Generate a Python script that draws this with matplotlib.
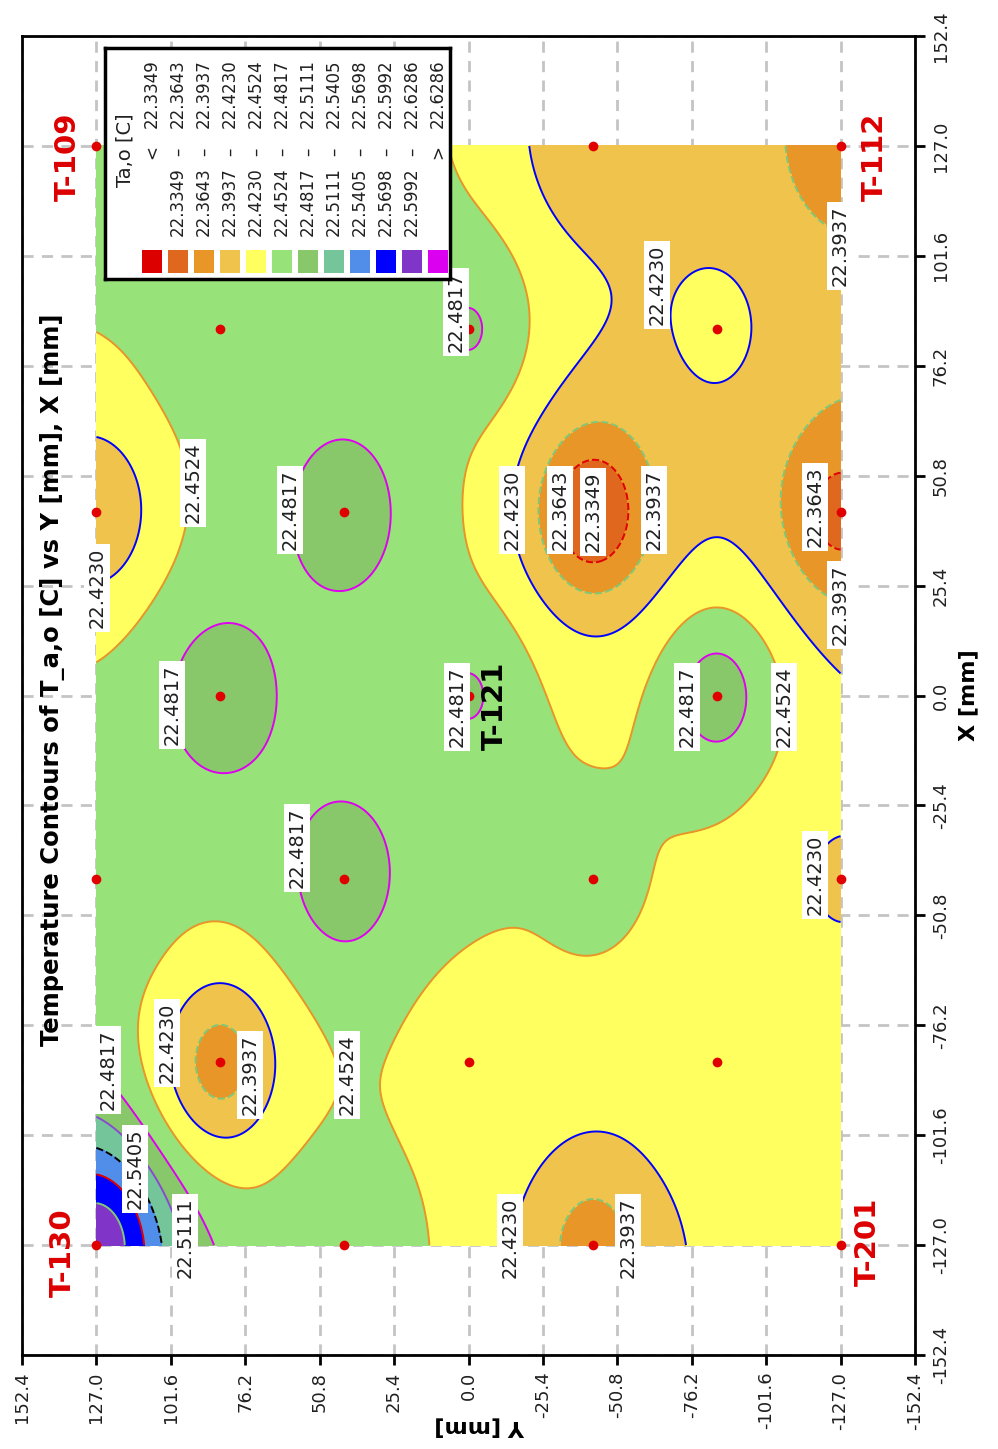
import numpy as np
import matplotlib
matplotlib.use("Agg")
import matplotlib.pyplot as plt
from matplotlib.patches import Rectangle
from matplotlib.ticker import FuncFormatter

# ==========================================================
# Data
# ==========================================================

# sensor locations (Y, X) in mm and measured temperature [C]
sensor_y = [127.0, 127.0, 127.0, 127.0,
            84.67, 84.67, 84.67,
            42.33, 42.33, 42.33, 42.33,
            0.0, 0.0, 0.0,
            -42.33, -42.33, -42.33, -42.33,
            -84.67, -84.67, -84.67,
            -127.0, -127.0, -127.0, -127.0]
sensor_x = [127.0, 42.33, -42.33, -127.0,
            84.67, 0.0, -84.67,
            127.0, 42.33, -42.33, -127.0,
            84.67, 0.0, -84.67,
            127.0, 42.33, -42.33, -127.0,
            84.67, 0.0, -84.67,
            127.0, 42.33, -42.33, -127.0]
sensor_t = [22.470, 22.400, 22.472, 22.618,
            22.470, 22.498, 22.380,
            22.470, 22.499, 22.499, 22.472,
            22.484, 22.484, 22.438,
            22.400, 22.333, 22.460, 22.382,
            22.427, 22.496, 22.440,
            22.378, 22.355, 22.420, 22.440]

levels = [22.3349, 22.3643, 22.3937, 22.4230, 22.4524, 22.4817,
          22.5111, 22.5405, 22.5698, 22.5992, 22.6286]
level_labels = ["%.4f" % v for v in levels]

band_colors = ["#dd0000", "#e0681e", "#e89628", "#f0c34c", "#ffff5f",
               "#98e27a", "#88c86a", "#74c69a", "#508eea", "#0000ff",
               "#8034c8", "#dc00f0"]
line_colors = ["#dd0000", "#e00000", "#80c878", "#0000ff", "#e89628",
               "#e000f0", "#8a4ad0", "black", "#e00000", "#80c878", "#e000f0"]
line_styles = ["--", "--", "--", "-", "-", "-", "-", "--", "-", "-", "-"]

# contour label texts and where they sit (Y, X)
clabel_text = ["22.4817", "22.3937", "22.4230", "22.4524", "22.4230",
               "22.4817", "22.4817", "22.4817", "22.4230", "22.3643",
               "22.3349", "22.3937", "22.3643", "22.3937", "22.4817",
               "22.4524", "22.4817", "22.4230", "22.4230", "22.4817",
               "22.3937", "22.4524", "22.5405", "22.5111", "22.4230",
               "22.3937"]
clabel_y = [4.3, -126.8, -64.3, 94.0, 126.8,
            60.9, 101.2, 3.9, -14.8, -31.2,
            -42.5, -63.3, -118.3, -126.8, -74.6,
            -107.7, 58.5, -118.3, 102.9, 123.0,
            74.6, 41.5, 113.8, 96.8, -14.2,
            -54.4]
clabel_x = [88.6, 103.9, 94.9, 49.1, 24.8,
            42.9, -2.2, -2.7, 42.9, 42.9,
            42.4, 42.9, 43.6, 20.9, -2.7,
            -2.7, -35.2, -41.5, -80.3, -86.5,
            -87.7, -87.7, -109.4, -125.4, -125.4,
            -125.4]

tag_text = ["T-109", "T-112", "T-130", "T-201", "T-121"]
tag_y = [136.7, -138.7, 138.4, -136.4, -9.0]
tag_x = [124.4, 124.4, -128.8, -126.3, -2.4]
tag_color = ["#dd0000", "#dd0000", "#dd0000", "#dd0000", "black"]

ticks = [round(k * 25.4, 1) for k in range(-6, 7)]

# ==========================================================
# Field (inverse distance weighting of the sensors)
# ==========================================================

sy = np.array(sensor_y)
sx = np.array(sensor_x)
st = np.array(sensor_t)

gy_1d = np.linspace(-127, 127, 401)
gx_1d = np.linspace(-127, 127, 401)
GY, GX = np.meshgrid(gy_1d, gx_1d)
d2 = (GY[..., None] - sy) ** 2 + (GX[..., None] - sx) ** 2
w = 1.0 / np.maximum(d2, 1e-9)
field = (w * st).sum(-1) / w.sum(-1)

# ==========================================================
# Figure
# ==========================================================

W, H = 998, 1449
fig = plt.figure(figsize=(W / 100, H / 100), dpi=100)
ax = fig.add_axes([22 / W, 1 - 1355 / H, 893 / W, 1319 / H])

fill_levels = [20.0] + levels + [25.0]
ax.contourf(GY, GX, field, levels=fill_levels, colors=band_colors, zorder=1)
ax.contour(GY, GX, field, levels=levels, colors=line_colors,
           linestyles=line_styles, linewidths=1.4, zorder=2)

ax.plot(sensor_y, sensor_x, "o", color="#e00000", markersize=7,
        markeredgewidth=0, zorder=4)

for txt, yv, xv in zip(clabel_text, clabel_y, clabel_x):
    ax.text(yv, xv, txt, rotation=90, ha="center", va="center",
            fontsize=14, color="#202020", zorder=5,
            bbox=dict(facecolor="white", edgecolor="none", pad=2.5))

for txt, yv, xv, c in zip(tag_text, tag_y, tag_x, tag_color):
    ax.text(yv, xv, txt, rotation=90, ha="center", va="center",
            fontsize=21, fontweight="bold", color=c, zorder=6)

ax.text(0.0336, 0.512, "Temperature Contours of T_a,o [C] vs Y [mm], X [mm]",
        transform=ax.transAxes, rotation=90, ha="center", va="center",
        fontsize=17.5, fontweight="bold", zorder=6)

ax.set_xlim(152.4, -152.4)
ax.set_ylim(-152.4, 152.4)
ax.set_xticks(ticks)
ax.set_yticks(ticks)
fmt = FuncFormatter(lambda v, pos: "%.1f" % v)
ax.xaxis.set_major_formatter(fmt)
ax.yaxis.set_major_formatter(fmt)
ax.yaxis.tick_right()
ax.yaxis.set_label_position("right")
ax.tick_params(axis="both", direction="out", length=7, width=2,
               labelsize=13, pad=5, colors="black")
for lab in ax.get_xticklabels() + ax.get_yticklabels():
    lab.set_rotation(90)
    lab.set_color("#202020")
for lab in ax.get_yticklabels():
    lab.set_verticalalignment("center")

ax.set_xlabel("Y [mm]", rotation=180, fontsize=16, fontweight="bold")
ax.xaxis.set_label_coords(0.513, -0.047)
ax.set_ylabel("X [mm]", rotation=90, fontsize=16, fontweight="bold",
              labelpad=6)

ax.grid(True, color="#c4c4c4", linestyle=(0, (4, 3)), linewidth=2)
ax.set_axisbelow(True)
for s in ax.spines.values():
    s.set_linewidth(2)

# ==========================================================
# Legend (drawn by hand, rotated like the rest)
# ==========================================================

lax = fig.add_axes([105 / W, 1 - 279 / H, 345 / W, 231 / H])
lax.set_xlim(0, 345)
lax.set_ylim(231, 0)
lax.set_xticks([])
lax.set_yticks([])
for s in lax.spines.values():
    s.set_linewidth(2.5)

lax.text(20, 102, "Ta,o [C]", rotation=90, ha="center", va="center",
         fontsize=14, color="#202020")
for k, col in enumerate(band_colors):
    cx = 47 + 26 * k
    if k == 0:
        top, sym, low = level_labels[0], "<", ""
    elif k == len(band_colors) - 1:
        top, sym, low = level_labels[-1], ">", ""
    else:
        top, sym, low = level_labels[k], "\u2013", level_labels[k - 1]
    lax.text(cx, 46, top, rotation=90, ha="center", va="center",
             fontsize=12, color="#202020")
    lax.text(cx, 104, sym, rotation=90, ha="center", va="center",
             fontsize=12, color="#202020")
    if low:
        lax.text(cx, 154, low, rotation=90, ha="center", va="center",
                 fontsize=12, color="#202020")
    lax.add_patch(Rectangle((cx - 10, 202), 20, 23, facecolor=col,
                            edgecolor="none"))

fig.savefig("out.png", dpi=100)
